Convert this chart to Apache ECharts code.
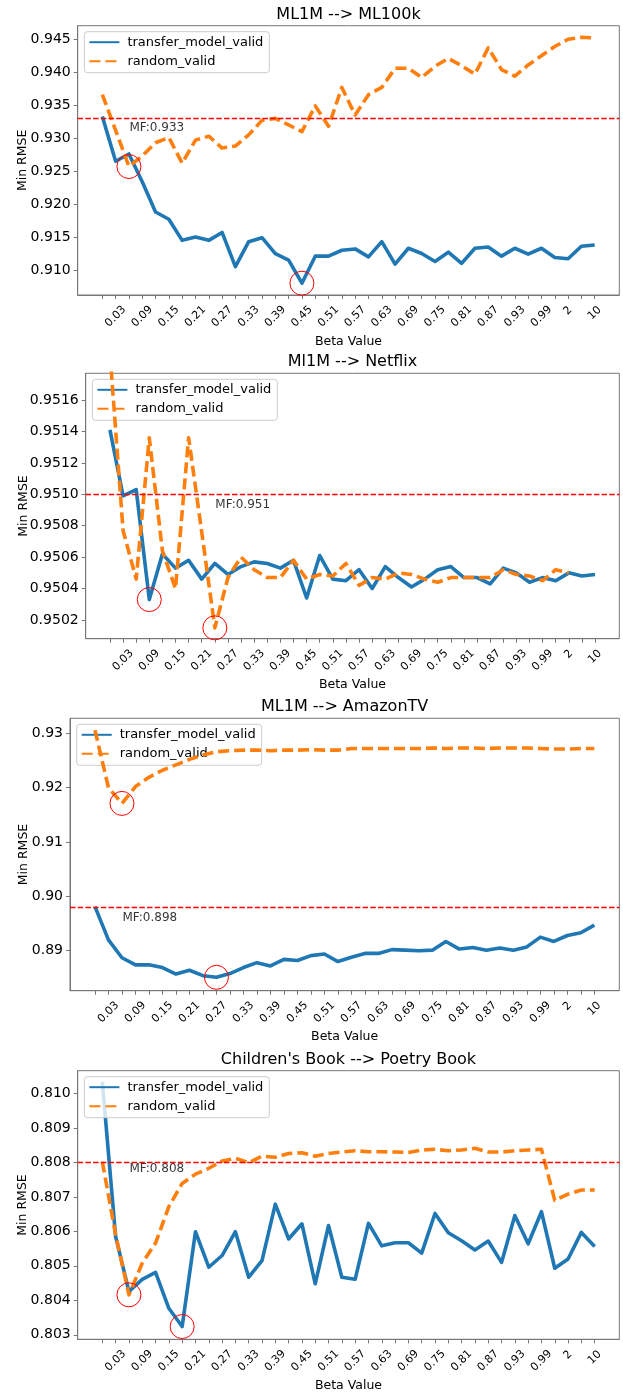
<!DOCTYPE html>
<html>
<head>
<meta charset="utf-8">
<script src="https://cdn.jsdelivr.net/npm/echarts@6/dist/echarts.min.js"></script>
<style>
html,body{margin:0;padding:0;background:#ffffff;}
#chart{width:623px;height:1393px;}
</style>
</head>
<body>
<div id="chart"></div>
<script>
// ---------------- data ----------------
const betaLabels = ['0','0.03','0.06','0.09','0.12','0.15','0.18','0.21','0.24','0.27','0.3','0.33','0.36','0.39','0.42','0.45','0.48','0.51','0.54','0.57','0.6','0.63','0.66','0.69','0.72','0.75','0.78','0.81','0.84','0.87','0.9','0.93','0.96','0.99','1','2','5','10'];

const seriesNames = ['transfer_model_valid', 'random_valid'];
const titles = ['ML1M --> ML100k', 'Ml1M --> Netflix', 'ML1M --> AmazonTV', "Children's Book --> Poetry Book"];
const mfValues = [0.933, 0.951, 0.898, 0.808];

const ml100kTransfer = [0.9333,0.9265,0.9276,0.9234,0.9188,0.9177,0.9145,0.9150,0.9145,0.9157,0.9105,0.9143,0.9149,0.9125,0.9115,0.9080,0.9121,0.9121,0.9130,0.9132,0.9120,0.9143,0.9109,0.9133,0.9125,0.9113,0.9127,0.9110,0.9133,0.9135,0.9121,0.9133,0.9124,0.9133,0.9119,0.9117,0.9136,0.9138];
const ml100kRandom   = [0.9366,0.9312,0.9257,0.9273,0.9293,0.9301,0.9262,0.9297,0.9303,0.9285,0.9288,0.9305,0.9327,0.9330,0.9320,0.9310,0.9349,0.9318,0.9377,0.9335,0.9366,0.9377,0.9406,0.9406,0.9392,0.9409,0.9421,0.9410,0.9397,0.9437,0.9404,0.9394,0.9411,0.9425,0.9439,0.9450,0.9453,0.9452];

const netflixTransfer = [0.95141,0.95099,0.95103,0.95033,0.95062,0.95053,0.95058,0.95046,0.95056,0.95049,0.95054,0.95057,0.95056,0.95053,0.95058,0.95034,0.95061,0.95046,0.95045,0.95052,0.95040,0.95054,0.95047,0.95041,0.95046,0.95052,0.95054,0.95047,0.95047,0.95043,0.95053,0.95050,0.95044,0.95047,0.95045,0.95050,0.95048,0.95049];
const netflixRandom   = [0.95190,0.95077,0.95046,0.95136,0.95064,0.95040,0.95136,0.95076,0.95015,0.95047,0.95060,0.95052,0.95047,0.95047,0.95058,0.95046,0.95049,0.95048,0.95056,0.95042,0.95047,0.95046,0.95050,0.95049,0.95046,0.95044,0.95047,0.95047,0.95047,0.95047,0.95052,0.95049,0.95048,0.95045,0.95052,0.95050,null,null];

const amazonTransfer = [0.8981,0.8920,0.8887,0.8874,0.8874,0.8869,0.8857,0.8864,0.8854,0.8851,0.8858,0.8869,0.8878,0.8872,0.8884,0.8882,0.8891,0.8894,0.8880,0.8888,0.8895,0.8895,0.8902,0.8901,0.8900,0.8901,0.8917,0.8903,0.8906,0.8901,0.8905,0.8901,0.8907,0.8925,0.8917,0.8928,0.8933,0.8947];
const amazonRandom   = [0.9306,0.9200,0.9171,0.9202,0.9219,0.9232,0.9242,0.9252,0.9260,0.9266,0.9268,0.9269,0.9269,0.9268,0.9269,0.9269,0.9270,0.9269,0.9269,0.9272,0.9272,0.9272,0.9272,0.9272,0.9272,0.9273,0.9272,0.9273,0.9273,0.9272,0.9273,0.9273,0.9273,0.9272,0.9271,0.9271,0.9272,0.9272];

const booksTransfer = [0.81034,0.80585,0.80426,0.80461,0.80481,0.80377,0.80324,0.80599,0.80496,0.80530,0.80599,0.80467,0.80515,0.80679,0.80578,0.80622,0.80448,0.80617,0.80467,0.80461,0.80623,0.80558,0.80567,0.80567,0.80537,0.80652,0.80596,0.80573,0.80546,0.80572,0.80510,0.80646,0.80564,0.80657,0.80493,0.80520,0.80597,0.80556];
const booksRandom   = [0.80802,0.80590,0.80416,0.80508,0.80566,0.80672,0.80739,0.80766,0.80783,0.80804,0.80812,0.80799,0.80818,0.80815,0.80826,0.80828,0.80818,0.80826,0.80830,0.80834,0.80831,0.80831,0.80830,0.80829,0.80836,0.80838,0.80834,0.80836,0.80841,0.80830,0.80830,0.80834,0.80836,0.80838,0.80690,0.80708,0.80720,0.80720];

// y tick labels
const ml100kYTicks  = [0.910,0.915,0.920,0.925,0.930,0.935,0.940,0.945];
const netflixYTicks = [0.9502,0.9504,0.9506,0.9508,0.9510,0.9512,0.9514,0.9516];
const amazonYTicks  = [0.89,0.90,0.91,0.92,0.93];
const booksYTicks   = [0.803,0.804,0.805,0.806,0.807,0.808,0.809,0.810];

// ---------------- layout / style (not data) ----------------
const panels = [
  {t: ml100kTransfer,  r: ml100kRandom,  ticks: ml100kYTicks,  digits: 3, ymin: 0.90621, ymax: 0.94706,
   grid: {left: 77.7, top: 25.7, width: 541.6, height: 269.3}, nameGap: 48, mfText: [2, 0.9316]},
  {t: netflixTransfer, r: netflixRandom, ticks: netflixYTicks, digits: 4, ymin: 0.950081, ymax: 0.95177,
   grid: {left: 85.7, top: 373.3, width: 533.6, height: 265.4}, nameGap: 55, mfText: [8, 0.95093]},
  {t: amazonTransfer,  r: amazonRandom,  ticks: amazonYTicks,  digits: 2, ymin: 0.88264, ymax: 0.93276,
   grid: {left: 70, top: 718.3, width: 549.3, height: 272.4}, nameGap: 40, mfText: [2, 0.8961]},
  {t: booksTransfer,   r: booksRandom,   ticks: booksYTicks,   digits: 3, ymin: 0.80287, ymax: 0.81066,
   grid: {left: 77.7, top: 1070.7, width: 541.6, height: 268.6}, nameGap: 48, mfText: [2, 0.8078]}
];

const BLUE = '#1f77b4', ORANGE = '#ff7f0e', RED = '#ff0000', FRAME = '#777777';
const FONT = 'DejaVu Sans';
const xTickIdx = betaLabels.map((_, i) => i);
const xLabelIdx = betaLabels.map((_, i) => i).filter(i => i % 2 === 1);

const option = {
  animation: false,
  backgroundColor: '#ffffff',
  textStyle: {fontFamily: FONT},
  title: [], legend: [], grid: [], xAxis: [], yAxis: [], series: []
};

const minCircle = {
  symbol: 'circle', symbolSize: 24, silent: true,
  itemStyle: {color: 'rgba(0,0,0,0)', borderColor: RED, borderWidth: 1},
  label: {show: false},
  data: [{type: 'min'}]
};

panels.forEach((p, i) => {
  const g = p.grid;
  option.grid.push({left: g.left, top: g.top, width: g.width, height: g.height,
    show: true, borderColor: FRAME, borderWidth: 1, backgroundColor: 'rgba(0,0,0,0)', outerBoundsMode: 'none'});
  option.title.push({
    text: titles[i], left: g.left + g.width / 2, top: g.top - 19, textAlign: 'center', padding: 0,
    textStyle: {fontSize: 16, fontWeight: 'normal', color: '#000', fontFamily: FONT}
  });
  option.legend.push({
    data: seriesNames, orient: 'vertical', left: g.left + 6.7, top: g.top + 6,
    itemWidth: 30, itemHeight: 14, itemGap: 6, padding: [4, 6, 5, 4],
    backgroundColor: 'rgba(255,255,255,0.8)', borderColor: '#cccccc', borderWidth: 1, borderRadius: 3,
    itemStyle: {opacity: 0},
    textStyle: {fontSize: 13, color: '#000', fontFamily: FONT, padding: [0, 0, 0, 3]},
    selectedMode: false
  });
  option.xAxis.push({
    type: 'value', gridIndex: i, min: -1.85, max: 38.85,
    splitLine: {show: false},
    axisLine: {show: true, onZero: false, lineStyle: {color: FRAME, width: 1}},
    axisTick: {show: true, length: 4, customValues: xTickIdx, lineStyle: {color: FRAME}},
    axisLabel: {
      customValues: xLabelIdx, rotate: 45, align: 'center', verticalAlign: 'middle', margin: 21.5,
      fontSize: 11, color: '#000', fontFamily: FONT,
      formatter: v => {
        const s = betaLabels[Math.round(v)];
        if (s.length === 1) return '{p2|' + s + '}';
        if (s.length === 2) return '{p1|' + s + '}';
        return s;
      },
      rich: {
        p1: {fontSize: 11, fontFamily: FONT, color: '#000', padding: [0, 0, 4.8, 4.8]},
        p2: {fontSize: 11, fontFamily: FONT, color: '#000', padding: [0, 0, 8.3, 8.3]}
      }
    },
    name: 'Beta Value', nameLocation: 'middle', nameGap: 40, nameMoveOverlap: false,
    nameTextStyle: {fontSize: 12.5, color: '#000', fontFamily: FONT}
  });
  option.yAxis.push({
    type: 'value', gridIndex: i, min: p.ymin, max: p.ymax, scale: true,
    splitLine: {show: false},
    axisLine: {show: true, onZero: false, lineStyle: {color: FRAME, width: 1}},
    axisTick: {show: true, length: 4, customValues: p.ticks, lineStyle: {color: FRAME}},
    axisLabel: {customValues: p.ticks, margin: 7, fontSize: 14, color: '#000', fontFamily: FONT,
      formatter: v => v.toFixed(p.digits)},
    name: 'Min RMSE', nameLocation: 'middle', nameGap: p.nameGap, nameMoveOverlap: false,
    nameTextStyle: {fontSize: 12.5, color: '#000', fontFamily: FONT}
  });
  const toPts = arr => arr.map((v, k) => [k, v]).filter(d => d[1] !== null);
  option.series.push({
    name: seriesNames[0], type: 'line', xAxisIndex: i, yAxisIndex: i,
    data: toPts(p.t), symbol: 'none', showSymbol: false, clip: true,
    lineStyle: {color: BLUE, width: 3.6, join: 'round'}, itemStyle: {color: BLUE}, z: 3,
    markPoint: minCircle,
    markLine: {
      silent: true, symbol: ['none', 'none'], label: {show: false}, precision: 6,
      lineStyle: {color: RED, type: [5.5, 2.2], width: 1.4},
      data: [{yAxis: mfValues[i]}]
    }
  });
  option.series.push({
    name: seriesNames[1], type: 'line', xAxisIndex: i, yAxisIndex: i,
    data: toPts(p.r), symbol: 'none', showSymbol: false, clip: true,
    lineStyle: {color: ORANGE, width: 3.6, type: [11, 5], join: 'round'}, itemStyle: {color: ORANGE}, z: 4,
    markPoint: minCircle
  });
  option.series.push({
    name: 'mf-label', type: 'scatter', xAxisIndex: i, yAxisIndex: i, silent: true,
    data: [p.mfText], symbolSize: 1, itemStyle: {color: 'rgba(0,0,0,0)'},
    label: {show: true, position: 'right', distance: 0, formatter: 'MF:' + mfValues[i],
      fontSize: 12, color: '#000', fontFamily: FONT}
  });
});

const chart = echarts.init(document.getElementById('chart'), null, {renderer: 'canvas'});
chart.setOption(option);
</script>
</body>
</html>
